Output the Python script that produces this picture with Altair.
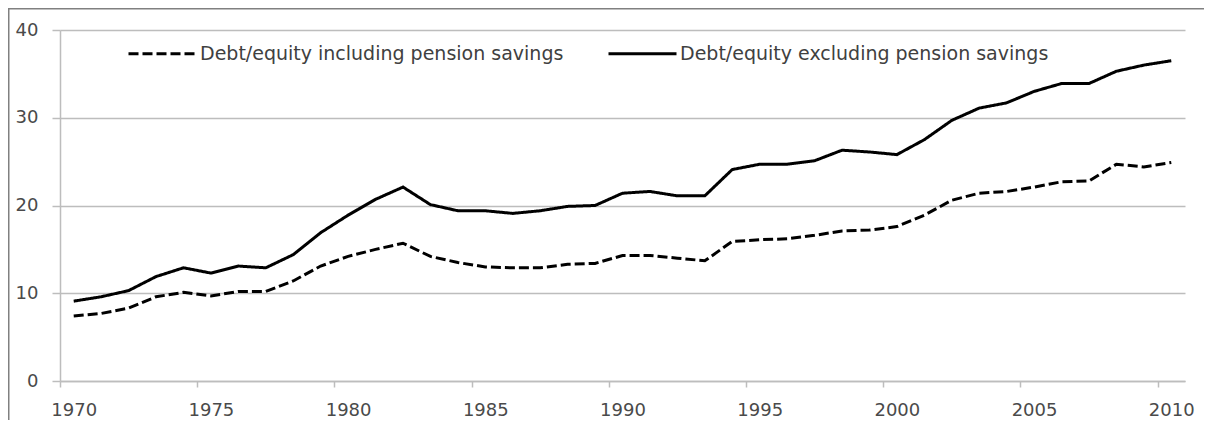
import altair as alt
import pandas as pd

years = list(range(1970, 2011))
incl = [7.4, 7.7, 8.3, 9.6, 10.1, 9.7, 10.2, 10.2, 11.4, 13.1,
        14.2, 15.0, 15.7, 14.2, 13.5, 13.0, 12.9, 12.9, 13.3, 13.4,
        14.3, 14.3, 14.0, 13.7, 15.9, 16.1, 16.2, 16.6, 17.1, 17.2,
        17.6, 18.9, 20.6, 21.4, 21.6, 22.1, 22.7, 22.8, 24.7, 24.4, 24.9]
excl = [9.1, 9.6, 10.3, 11.9, 12.9, 12.3, 13.1, 12.9, 14.4, 16.9,
        18.9, 20.7, 22.1, 20.1, 19.4, 19.4, 19.1, 19.4, 19.9, 20.0,
        21.4, 21.6, 21.1, 21.1, 24.1, 24.7, 24.7, 25.1, 26.3, 26.1,
        25.8, 27.5, 29.7, 31.1, 31.7, 33.0, 33.9, 33.9, 35.3, 36.0, 36.5]
series_names = ["Debt/equity including pension savings",
                "Debt/equity excluding pension savings"]
y_ticks = [0, 10, 20, 30, 40]
x_tick_years = [1970, 1975, 1980, 1985, 1990, 1995, 2000, 2005, 2010]

rows = []
for name, vals in zip(series_names, [incl, excl]):
    for yr, v in zip(years, vals):
        rows.append({"year": yr, "series": name, "value": v})
df = pd.DataFrame(rows)

FONT = "DejaVu Sans"
GRID = "#bdbdbd"
LABEL = "#4a4a4a"

# category boundaries (ticks sit between categories, labels at category centre)
x_tick_vals = [y - 0.5 for y in x_tick_years]

lines = alt.Chart(df).mark_line(color="black", strokeWidth=3).encode(
    x=alt.X("year:Q",
            scale=alt.Scale(domain=[1969.5, 2010.5], nice=False, zero=False),
            axis=alt.Axis(values=x_tick_vals, title=None, grid=False,
                          labelExpr="format(datum.value + 0.5, 'd')",
                          labelOffset=13.7, labelFlush=False, labelOverlap=False,
                          labelFont=FONT, labelFontSize=18, labelColor=LABEL,
                          labelPadding=14, tickSize=6, tickColor=GRID, tickWidth=1.5,
                          domainColor=GRID, domainWidth=1.5)),
    y=alt.Y("value:Q",
            scale=alt.Scale(domain=[0, 40], nice=False),
            axis=alt.Axis(values=y_ticks, title=None, grid=True,
                          gridColor=GRID, gridWidth=1.5,
                          labelFont=FONT, labelFontSize=18, labelColor=LABEL,
                          labelPadding=14, tickSize=8, tickColor=GRID, tickWidth=1.5,
                          domainColor=GRID, domainWidth=1.5)),
    strokeDash=alt.StrokeDash("series:N",
                              scale=alt.Scale(domain=series_names, range=[[10, 4], [1, 0]]),
                              legend=alt.Legend(title=None, orient="none",
                                                legendX=67, legendY=-12,
                                                direction="horizontal",
                                                symbolType="stroke", symbolSize=4624,
                                                symbolStrokeWidth=3, symbolStrokeColor="black",
                                                labelFont=FONT, labelFontSize=19,
                                                labelColor="#404040", labelLimit=600,
                                                labelOffset=2, columnPadding=38,
                                                padding=0)),
)

frame = alt.Chart(pd.DataFrame({"f": [0]})).mark_rect(
    fillOpacity=0, stroke="#808080", strokeWidth=1.5, clip=False
).encode(
    x=alt.value(-51.25), x2=alt.value(1400),
    y=alt.value(-21.25), y2=alt.value(600),
)

chart = alt.layer(frame, lines).properties(
    width=1125, height=351,
    autosize=alt.AutoSizeParams(type="none"),
    padding={"left": 52, "top": 22, "right": 19, "bottom": 39},
    background="white",
).configure_view(stroke=None)

chart.save("out.html", embed_options={"renderer": "svg", "actions": False})
